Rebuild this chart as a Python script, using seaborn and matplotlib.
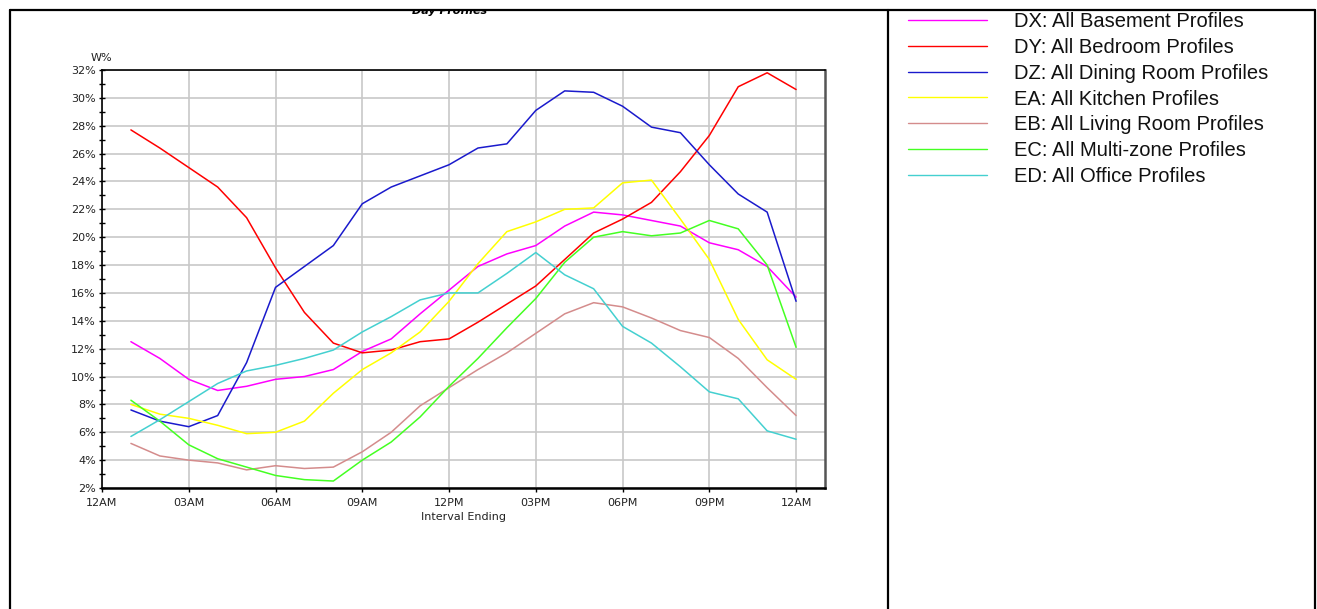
import matplotlib
matplotlib.use("Agg")
import matplotlib.pyplot as plt
from matplotlib.lines import Line2D
from matplotlib.patches import Rectangle
from matplotlib.ticker import MultipleLocator, FuncFormatter
import seaborn as sns
import pandas as pd

# hour of interval ending (1AM .. 12AM next day)
hours = list(range(1, 25))

basement = [12.5, 11.3, 9.8, 9.0, 9.3, 9.8, 10.0, 10.5, 11.8, 12.7, 14.5, 16.2,
            17.9, 18.8, 19.4, 20.8, 21.8, 21.6, 21.2, 20.8, 19.6, 19.1, 17.9, 15.7]
bedroom = [27.7, 26.4, 25.0, 23.6, 21.4, 17.8, 14.6, 12.4, 11.7, 11.9, 12.5, 12.7,
           13.9, 15.2, 16.5, 18.4, 20.3, 21.3, 22.5, 24.7, 27.3, 30.8, 31.8, 30.6]
dining = [7.6, 6.8, 6.4, 7.2, 11.0, 16.4, 17.9, 19.4, 22.4, 23.6, 24.4, 25.2,
          26.4, 26.7, 29.1, 30.5, 30.4, 29.4, 27.9, 27.5, 25.2, 23.1, 21.8, 15.4]
kitchen = [8.0, 7.3, 7.0, 6.5, 5.9, 6.0, 6.8, 8.8, 10.5, 11.7, 13.2, 15.4,
           18.1, 20.4, 21.1, 22.0, 22.1, 23.9, 24.1, 21.3, 18.4, 14.1, 11.2, 9.8]
living = [5.2, 4.3, 4.0, 3.8, 3.3, 3.6, 3.4, 3.5, 4.6, 6.0, 7.9, 9.2,
          10.5, 11.7, 13.1, 14.5, 15.3, 15.0, 14.2, 13.3, 12.8, 11.3, 9.2, 7.2]
multizone = [8.3, 6.8, 5.1, 4.1, 3.5, 2.9, 2.6, 2.5, 4.0, 5.3, 7.1, 9.3,
             11.3, 13.5, 15.6, 18.2, 20.0, 20.4, 20.1, 20.3, 21.2, 20.6, 18.0, 12.1]
office = [5.7, 6.9, 8.2, 9.5, 10.4, 10.8, 11.3, 11.9, 13.2, 14.3, 15.5, 16.0,
          16.0, 17.4, 18.9, 17.3, 16.3, 13.6, 12.4, 10.7, 8.9, 8.4, 6.1, 5.5]

series_names = ["DX: All Basement Profiles", "DY: All Bedroom Profiles",
                "DZ: All Dining Room Profiles", "EA: All Kitchen Profiles",
                "EB: All Living Room Profiles", "EC: All Multi-zone Profiles",
                "ED: All Office Profiles"]
series_values = [basement, bedroom, dining, kitchen, living, multizone, office]
colors = ["#ff00ff", "#ff0000", "#1a1acc", "#ffff00", "#d48c8c", "#44ff22", "#44d0d0"]

x_ticks = [0, 3, 6, 9, 12, 15, 18, 21, 24]
x_labels = ["12AM", "03AM", "06AM", "09AM", "12PM", "03PM", "06PM", "09PM", "12AM"]

rows = []
for name, vals in zip(series_names, series_values):
    for h, v in zip(hours, vals):
        rows.append({"hour": h, "value": v, "series": name})
df = pd.DataFrame(rows)

sns.set_style("white")
plt.rcParams["font.family"] = ["DejaVu Sans"]

W, H = 1317, 609
fig = plt.figure(figsize=(W / 100, H / 100), dpi=100)
ax = fig.add_axes([102 / W, 1 - 488 / H, (825 - 102) / W, (488 - 70) / H])

sns.lineplot(data=df, x="hour", y="value", hue="series", hue_order=series_names,
             palette=colors, linewidth=1.1, ax=ax, legend=False)

ax.set_xlim(0, 25)
ax.set_ylim(2, 32)
ax.set_xticks(x_ticks)
ax.set_xticklabels(x_labels)
ax.yaxis.set_major_locator(MultipleLocator(2))
ax.yaxis.set_minor_locator(MultipleLocator(1))
ax.yaxis.set_major_formatter(FuncFormatter(lambda v, p: f"{v:.0f}%"))
ax.grid(True, which="major", color="#c8c8c8", linewidth=1.2)
ax.set_axisbelow(True)
ax.tick_params(axis="y", which="both", left=True, direction="inout", length=5, width=1,
               labelsize=8, pad=2, colors="black", labelcolor="#222222")
ax.tick_params(axis="x", which="major", bottom=True, direction="out", length=3, width=1,
               labelsize=8, pad=4, colors="black", labelcolor="#222222")

for side in ["left", "top"]:
    ax.spines[side].set_color("black")
    ax.spines[side].set_linewidth(1.2)
ax.spines["bottom"].set_color("black")
ax.spines["bottom"].set_linewidth(1.8)
ax.spines["right"].set_color("#555555")
ax.spines["right"].set_linewidth(1.8)

ax.set_ylabel("")
ax.set_xlabel("Interval Ending", fontsize=8, color="#222222")
ax.xaxis.label.set_va("center")
ax.xaxis.set_label_coords(0.5, (488 - 516.5) / 418)

fig.text(101 / W, 1 - 58 / H, "W%", ha="center", va="center", fontsize=8, color="#222222")

# legend on the right panel
handles = [Line2D([0], [0], color=c, linewidth=1.0) for c in colors]
fig.legend(handles, series_names, loc="upper left",
           bbox_to_anchor=(908 / W, 1 - 12 / H), frameon=False,
           prop={"family": "Liberation Sans", "size": 14.5}, labelcolor="#111111",
           handlelength=3.9, handletextpad=1.35, labelspacing=0.34,
           borderpad=0, borderaxespad=0)

# title, clipped by the frame line above it
fig.text(450 / W, 1 - 11 / H, "Day Profiles", ha="center", va="center",
         fontsize=8, fontweight="bold", fontstyle="italic", color="black")
fig.add_artist(Rectangle((0, 1 - 9 / H), 1, 9 / H, transform=fig.transFigure,
                         facecolor="white", edgecolor="none", zorder=20))

# outer frame and divider
frame = dict(color="black", linewidth=1.6, transform=fig.transFigure, zorder=30)
fig.add_artist(Line2D([10 / W, 1315 / W], [1 - 10 / H, 1 - 10 / H], **frame))
for xp in [10, 888, 1315]:
    fig.add_artist(Line2D([xp / W, xp / W], [0, 1 - 10 / H], **frame))

fig.savefig("out.png", dpi=100)
